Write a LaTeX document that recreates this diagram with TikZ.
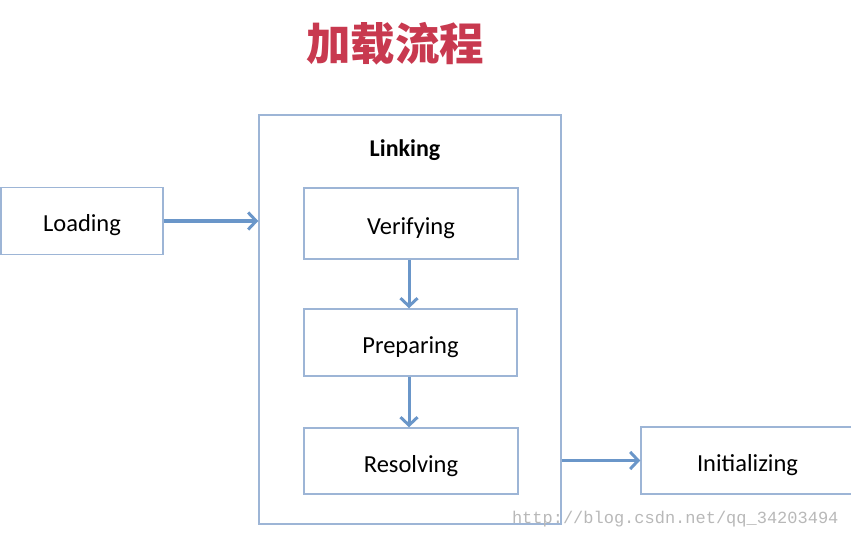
\documentclass[tikz,border=0pt]{standalone}
\usepackage{fontspec}
\setmainfont{Carlito}
\newfontfamily\cjk{Noto Sans CJK SC}
\newfontfamily\wmfont{Liberation Mono}
\usepackage{tikz}
\usetikzlibrary{positioning, calc}
\usetikzlibrary{arrows.meta}

\definecolor{boxline}{HTML}{9DB5D6}
\definecolor{arrowblue}{HTML}{6A96C9}
\definecolor{titlered}{HTML}{C8394F}

\tikzset{
    stage/.style={draw=boxline, line width=1.5pt, minimum width=214pt, minimum height=68pt, text height=24pt, text depth=2pt, font=\fontsize{24.5}{28}\selectfont},
    flow/.style={draw=arrowblue, line width=3pt, -{Straight Barb[length=8pt,width=17pt,line width=3pt]}}
}

\begin{document}
\begin{tikzpicture}[x=1pt, y=-1pt]
                \useasboundingbox (0,0) rectangle (851,540);
                \node[font=\cjk\bfseries\fontsize{44.5}{48}\selectfont, text=titlered] (title) at (395,44) {加载流程};
                \node[draw=boxline, line width=1.5pt, minimum width=302pt, minimum height=409pt] (linking) at (410,319.5) {};
                \node[font=\bfseries\fontsize{24}{28}\selectfont] (linklabel) at (405,150) {Linking};
                \node[stage, minimum width=162pt, minimum height=67pt] (loading) at (82,221) {Loading};
                \node[stage, minimum height=71pt] (verifying) at (411,223.5) {Verifying};
                \node[stage, minimum width=213pt, minimum height=67pt] (preparing) at (410.5,342.5) {Preparing};
                \node[stage, minimum height=66pt] (resolving) at (411,461) {Resolving};
                \node[stage, minimum width=230pt, minimum height=67pt, text width=214pt, align=left] (init) at (756,460.5) {\hspace*{48pt}Initializing};
                \draw[flow] (loading.east) -- (loading.east -| linking.west);
                \draw[flow] ($(verifying.south)+(-2,0)$) -- ($(preparing.north)+(-1.5,0)$);
                \draw[flow] ($(preparing.south)+(-1.5,0)$) -- ($(resolving.north)+(-2,0)$);
                \draw[flow] (linking.east |- init.west) -- (init.west);
                \node[font=\wmfont\fontsize{17}{20}\selectfont, text=black!28, anchor=east] (mark) at (842,519) {http://blog.csdn.net/qq\_34203494};
            \end{tikzpicture}
\end{document}
